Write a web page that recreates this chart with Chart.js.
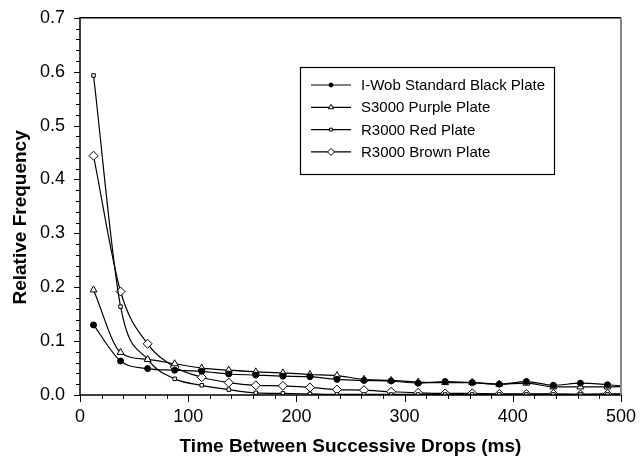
<!DOCTYPE html>
<html>
<head>
<meta charset="utf-8">
<script src="https://cdn.jsdelivr.net/npm/chart.js@4/dist/chart.umd.min.js"></script>
<style>
    html, body { margin: 0; padding: 0; background: #fff; }
    #wrap { width: 641px; height: 462px; }
</style>
</head>
<body>
<div id="wrap"><canvas id="drops-chart" width="641" height="462"></canvas></div>
<script>
// bin centres (ms); the last bin sits past the axis end and is clipped
const times = [12.5, 37.5, 62.5, 87.5, 112.5, 137.5, 162.5, 187.5, 212.5, 237.5,
               262.5, 287.5, 312.5, 337.5, 362.5, 387.5, 412.5, 437.5, 462.5, 487.5, 512.5];

const seriesNames = ['I-Wob Standard Black Plate', 'S3000 Purple Plate', 'R3000 Red Plate', 'R3000 Brown Plate'];

const blackPlate  = [0.130, 0.063, 0.049, 0.046, 0.044, 0.039, 0.037, 0.035, 0.034, 0.029,
                     0.027, 0.026, 0.022, 0.025, 0.023, 0.020, 0.025, 0.018, 0.022, 0.019, 0.015];
const purplePlate = [0.195, 0.079, 0.066, 0.058, 0.050, 0.046, 0.043, 0.041, 0.038, 0.036,
                     0.029, 0.027, 0.024, 0.023, 0.023, 0.020, 0.022, 0.015, 0.015, 0.015, 0.016];
const redPlate    = [0.593, 0.164, 0.066, 0.030, 0.018, 0.010, 0.004, 0.003, 0.002, 0.001,
                     0.001, 0.001, 0.001, 0.001, 0.001, 0.001, 0.001, 0.001, 0.001, 0.001, 0.001];
const brownPlate  = [0.444, 0.192, 0.095, 0.052, 0.033, 0.023, 0.018, 0.017, 0.014, 0.010,
                     0.009, 0.006, 0.004, 0.003, 0.003, 0.002, 0.002, 0.002, 0.001, 0.002, 0.002];

const xMajor = 100, xMinor = 20;
const yMajor = 0.1, yMinor = 0.02;
const yTitle = 'Relative Frequency';

function toPoints(values) {
    return values.map((v, i) => ({ x: times[i], y: v }));
}

function makeSet(label, values, style, radius, fill) {
    return {
        label: label,
        data: toPoints(values),
        borderColor: '#000',
        borderWidth: 1.2,
        pointStyle: style,
        pointRadius: radius,
        pointBackgroundColor: fill,
        pointBorderColor: '#000',
        pointBorderWidth: 1,
        cubicInterpolationMode: 'monotone',
        fill: false
    };
}

const tickFont = { family: '"Liberation Sans", Arial, sans-serif', size: 18 };
const titleFont = { family: '"Liberation Sans", Arial, sans-serif', size: 19, weight: 'bold' };

// ticks, frame, y title and the boxed legend inside the plot
const framePlugin = {
    id: 'frame',
    afterDraw(chart) {
        const ctx = chart.ctx;
        const a = chart.chartArea;
        const xs = chart.scales.x, ys = chart.scales.y;
        ctx.save();
        ctx.lineWidth = 1;
        ctx.strokeStyle = '#000';

        ctx.beginPath();
        for (let v = xs.min; v <= xs.max + 1e-9; v += xMinor) {
            const px = Math.round(xs.getPixelForValue(v)) + 0.5;
            const major = Math.abs(v / xMajor - Math.round(v / xMajor)) < 1e-6;
            ctx.moveTo(px, a.bottom);
            ctx.lineTo(px, a.bottom + (major ? 7 : 4));
        }
        for (let v = ys.min; v <= ys.max + 1e-9; v += yMinor) {
            const py = Math.round(ys.getPixelForValue(v)) + 0.5;
            const major = Math.abs(v / yMajor - Math.round(v / yMajor)) < 1e-6;
            ctx.moveTo(a.left, py);
            ctx.lineTo(a.left - (major ? 6 : 4), py);
        }
        ctx.stroke();

        ctx.lineWidth = 1.5;
        ctx.beginPath();
        ctx.moveTo(a.right, a.top);
        ctx.lineTo(a.left, a.top);
        ctx.lineTo(a.left, a.bottom);
        ctx.lineTo(a.right, a.bottom);
        ctx.stroke();
        ctx.strokeStyle = '#888';
        ctx.lineWidth = 2;
        ctx.beginPath();
        ctx.moveTo(a.right, a.top);
        ctx.lineTo(a.right, a.bottom);
        ctx.stroke();

        // y title, sitting a little below the axis centre like the original
        ctx.save();
        ctx.translate(21, (a.top + a.bottom) / 2 + 11);
        ctx.rotate(-Math.PI / 2);
        ctx.font = 'bold 19px "Liberation Sans", Arial, sans-serif';
        ctx.fillStyle = '#000';
        ctx.textAlign = 'center';
        ctx.textBaseline = 'middle';
        ctx.fillText(yTitle, 0, 0);
        ctx.restore();

        // legend
        const bx = 300, by = 67, bw = 254, bh = 107;
        ctx.fillStyle = '#fff';
        ctx.fillRect(bx, by, bw, bh);
        ctx.strokeStyle = '#000';
        ctx.lineWidth = 1.2;
        ctx.strokeRect(bx + 0.5, by + 0.5, bw, bh);
        ctx.font = '15px "Liberation Sans", Arial, sans-serif';
        ctx.textBaseline = 'middle';
        chart.data.datasets.forEach((ds, i) => {
            const y = by + 18 + i * 22.3;
            ctx.strokeStyle = '#000';
            ctx.lineWidth = 1.2;
            ctx.beginPath();
            ctx.moveTo(bx + 11, y);
            ctx.lineTo(bx + 51, y);
            ctx.stroke();
            ctx.fillStyle = ds.pointBackgroundColor;
            ctx.lineWidth = 1;
            Chart.helpers.drawPoint(ctx, {
                pointStyle: ds.pointStyle,
                radius: Math.max(ds.pointRadius - 1, 2),
                rotation: 0,
                borderWidth: 1
            }, bx + 31, y);
            ctx.fillStyle = '#000';
            ctx.fillText(ds.label, bx + 61, y + 1);
        });
        ctx.restore();
    }
};

const ctx = document.getElementById('drops-chart').getContext('2d');
const dropsChart = new Chart(ctx, {
    type: 'line',
    data: {
        datasets: [
            makeSet(seriesNames[0], blackPlate, 'circle', 3, '#000'),
            makeSet(seriesNames[1], purplePlate, 'triangle', 4, '#fff'),
            makeSet(seriesNames[2], redPlate, 'rect', 2.5, '#fff'),
            makeSet(seriesNames[3], brownPlate, 'rectRot', 4.5, '#fff')
        ]
    },
    options: {
        responsive: false,
        animation: false,
        layout: { padding: { top: 17, right: 20, left: 0, bottom: 0 } },
        plugins: {
            legend: { display: false },
            tooltip: { enabled: false }
        },
        scales: {
            x: {
                type: 'linear',
                min: 0,
                max: 500,
                grid: { display: false },
                border: { display: false },
                ticks: { stepSize: xMajor, color: '#000', font: tickFont, padding: 3, maxRotation: 0 },
                title: { display: true, text: 'Time Between Successive Drops (ms)', color: '#000', font: titleFont, padding: { top: 0, bottom: 4 } },
                afterFit(scale) { scale.height = 67; }
            },
            y: {
                min: 0,
                max: 0.7,
                grid: { display: false },
                border: { display: false },
                ticks: {
                    stepSize: yMajor,
                    color: '#000',
                    font: tickFont,
                    padding: 7,
                    callback: v => Number(v).toFixed(1)
                },
                title: { display: false },
                afterFit(scale) { scale.width = 80; }
            }
        }
    },
    plugins: [framePlugin]
});
</script>
</body>
</html>
